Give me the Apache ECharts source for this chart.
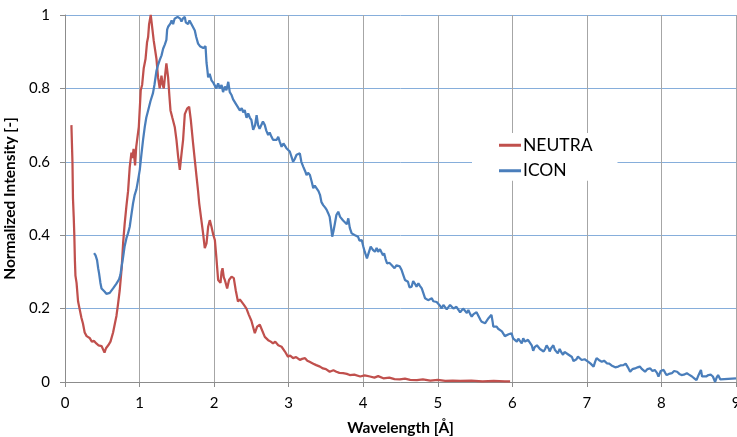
<!DOCTYPE html>
<html><head><meta charset="utf-8">
<script src="https://cdn.jsdelivr.net/npm/echarts@6/dist/echarts.min.js"></script>
<style>html,body{margin:0;padding:0;background:#fff}#c{width:737px;height:437px}</style>
</head><body><div id="c"></div>
<script>
var xTicks = [0,1,2,3,4,5,6,7,8,9];
var yTicks = [0,0.2,0.4,0.6,0.8,1];
var seriesNames = ['NEUTRA','ICON'];

var neutraX = [0.086,0.100,0.107,0.117,0.125,0.133,0.140,0.155,0.175,0.195,0.22,0.24,0.264,0.29,0.33,0.36,0.39,0.42,0.45,0.47,0.49,0.51,0.53,0.55,0.58,0.61,0.645,0.67,0.69,0.71,0.734,0.76,0.78,0.80,0.824,0.846,0.868,0.891,0.905,0.92,0.94,0.955,0.967,0.99,1.016,1.035,1.056,1.08,1.10,1.115,1.128,1.15,1.173,1.19,1.204,1.227,1.248,1.27,1.294,1.31,1.325,1.345,1.36,1.383,1.40,1.415,1.44,1.472,1.495,1.517,1.54,1.562,1.584,1.607,1.638,1.665,1.687,1.718,1.741,1.764,1.785,1.80,1.83,1.852,1.875,1.898,1.92,1.942,1.965,1.99,2.01,2.03,2.054,2.086,2.10,2.113,2.13,2.144,2.175,2.20,2.234,2.264,2.29,2.32,2.345,2.37,2.40,2.434,2.466,2.50,2.546,2.577,2.613,2.636,2.68,2.725,2.76,2.79,2.82,2.86,2.905,2.95,2.99,3.02,3.06,3.10,3.15,3.18,3.22,3.25,3.28,3.33,3.37,3.42,3.46,3.50,3.55,3.60,3.64,3.68,3.73,3.78,3.82,3.88,3.96,4.02,4.09,4.15,4.2,4.27,4.35,4.42,4.49,4.56,4.63,4.72,4.8,4.9,5.0,5.1,5.2,5.3,5.45,5.6,5.75,5.9,5.97];
var neutraY = [0.70,0.60,0.50,0.45,0.40,0.33,0.29,0.27,0.22,0.20,0.175,0.16,0.135,0.125,0.12,0.11,0.112,0.105,0.10,0.103,0.098,0.095,0.080,0.092,0.10,0.11,0.135,0.16,0.18,0.21,0.25,0.31,0.38,0.43,0.48,0.52,0.585,0.625,0.61,0.635,0.59,0.64,0.645,0.695,0.795,0.81,0.855,0.88,0.925,0.94,0.975,1.0,0.96,0.93,0.93,0.88,0.83,0.80,0.835,0.81,0.80,0.84,0.868,0.83,0.78,0.74,0.72,0.695,0.66,0.615,0.578,0.62,0.66,0.73,0.745,0.75,0.715,0.65,0.605,0.56,0.52,0.487,0.44,0.405,0.365,0.378,0.423,0.441,0.423,0.40,0.387,0.34,0.278,0.27,0.30,0.31,0.285,0.278,0.255,0.278,0.287,0.283,0.25,0.219,0.225,0.223,0.21,0.20,0.183,0.167,0.133,0.151,0.156,0.158,0.123,0.114,0.11,0.105,0.11,0.10,0.096,0.083,0.069,0.072,0.065,0.068,0.06,0.063,0.065,0.058,0.055,0.05,0.046,0.042,0.037,0.035,0.028,0.032,0.028,0.025,0.024,0.022,0.019,0.02,0.015,0.018,0.015,0.012,0.016,0.01,0.012,0.008,0.007,0.009,0.006,0.005,0.007,0.004,0.006,0.003,0.004,0.003,0.004,0.002,0.003,0.002,0.002];

var iconX = [0.39,0.41,0.43,0.445,0.457,0.475,0.49,0.51,0.533,0.555,0.577,0.60,0.62,0.645,0.667,0.69,0.71,0.725,0.743,0.76,0.78,0.80,0.824,0.845,0.868,0.89,0.913,0.935,0.958,0.98,1.003,1.025,1.047,1.07,1.09,1.115,1.146,1.18,1.20,1.227,1.25,1.27,1.295,1.316,1.34,1.36,1.37,1.383,1.40,1.415,1.43,1.45,1.47,1.495,1.51,1.53,1.545,1.562,1.58,1.607,1.62,1.635,1.651,1.67,1.697,1.72,1.741,1.76,1.785,1.81,1.83,1.855,1.875,1.885,1.898,1.91,1.92,1.94,1.965,1.99,2.01,2.03,2.054,2.075,2.10,2.12,2.144,2.165,2.19,2.21,2.234,2.255,2.278,2.30,2.32,2.345,2.37,2.39,2.41,2.435,2.457,2.48,2.50,2.524,2.55,2.57,2.59,2.61,2.635,2.655,2.68,2.70,2.725,2.745,2.77,2.79,2.815,2.84,2.86,2.88,2.905,2.93,2.95,2.97,2.99,3.015,3.04,3.06,3.08,3.106,3.125,3.15,3.17,3.195,3.22,3.24,3.26,3.285,3.31,3.33,3.35,3.374,3.40,3.42,3.44,3.463,3.49,3.51,3.53,3.55,3.57,3.584,3.60,3.62,3.64,3.665,3.69,3.71,3.73,3.755,3.78,3.80,3.82,3.845,3.87,3.89,3.91,3.93,3.95,3.98,4.00,4.02,4.05,4.07,4.10,4.13,4.157,4.18,4.2,4.225,4.25,4.265,4.28,4.30,4.32,4.35,4.38,4.40,4.42,4.445,4.47,4.49,4.515,4.54,4.56,4.58,4.60,4.62,4.65,4.67,4.69,4.715,4.74,4.76,4.785,4.81,4.83,4.85,4.87,4.895,4.92,4.94,4.96,4.985,5.006,5.03,5.05,5.075,5.096,5.12,5.14,5.165,5.186,5.21,5.23,5.25,5.275,5.30,5.32,5.34,5.365,5.39,5.41,5.435,5.455,5.48,5.5,5.52,5.545,5.57,5.59,5.61,5.634,5.66,5.68,5.70,5.72,5.735,5.745,5.77,5.79,5.81,5.835,5.86,5.88,5.90,5.925,5.95,5.97,5.99,6.01,6.035,6.06,6.08,6.10,6.126,6.146,6.17,6.19,6.21,6.235,6.26,6.28,6.30,6.33,6.35,6.37,6.395,6.42,6.44,6.46,6.49,6.50,6.52,6.55,6.57,6.59,6.61,6.635,6.66,6.68,6.70,6.725,6.75,6.77,6.80,6.82,6.84,6.86,6.88,6.905,6.93,6.95,6.97,6.99,7.02,7.05,7.07,7.09,7.11,7.13,7.16,7.20,7.23,7.27,7.30,7.33,7.35,7.38,7.42,7.45,7.49,7.52,7.535,7.55,7.58,7.61,7.645,7.68,7.71,7.74,7.78,7.81,7.85,7.88,7.91,7.94,7.96,7.99,8.03,8.05,8.07,8.10,8.14,8.17,8.21,8.24,8.27,8.30,8.34,8.37,8.41,8.44,8.47,8.50,8.53,8.545,8.56,8.60,8.63,8.66,8.69,8.71,8.72,8.74,8.76,8.79,8.80,9.0];
var iconY = [0.351,0.345,0.332,0.31,0.296,0.27,0.255,0.25,0.246,0.24,0.235,0.243,0.246,0.255,0.26,0.268,0.273,0.28,0.292,0.315,0.341,0.37,0.392,0.405,0.423,0.455,0.487,0.51,0.525,0.55,0.578,0.62,0.66,0.695,0.72,0.74,0.765,0.787,0.81,0.848,0.865,0.877,0.89,0.908,0.92,0.932,0.96,0.968,0.965,0.977,0.985,0.975,0.99,0.988,0.995,1.0,0.99,0.982,0.99,0.995,0.98,0.985,0.975,0.985,0.975,0.97,0.958,0.94,0.922,0.915,0.913,0.91,0.905,0.915,0.87,0.85,0.83,0.84,0.822,0.815,0.818,0.80,0.814,0.80,0.809,0.79,0.805,0.795,0.818,0.79,0.782,0.77,0.768,0.755,0.75,0.74,0.746,0.735,0.741,0.72,0.732,0.72,0.714,0.687,0.70,0.727,0.70,0.69,0.695,0.71,0.70,0.685,0.673,0.68,0.668,0.66,0.655,0.66,0.668,0.655,0.641,0.65,0.646,0.637,0.641,0.628,0.632,0.60,0.607,0.619,0.622,0.623,0.60,0.587,0.575,0.564,0.57,0.564,0.545,0.528,0.535,0.532,0.52,0.51,0.49,0.482,0.475,0.469,0.46,0.45,0.42,0.396,0.41,0.432,0.455,0.464,0.45,0.446,0.44,0.437,0.43,0.446,0.42,0.405,0.402,0.40,0.397,0.396,0.385,0.387,0.37,0.355,0.337,0.35,0.369,0.36,0.355,0.365,0.355,0.362,0.36,0.345,0.351,0.335,0.323,0.325,0.319,0.314,0.31,0.318,0.323,0.315,0.305,0.29,0.278,0.28,0.273,0.258,0.26,0.275,0.269,0.26,0.269,0.262,0.255,0.24,0.228,0.232,0.223,0.225,0.228,0.22,0.223,0.218,0.214,0.208,0.20,0.21,0.205,0.198,0.20,0.21,0.205,0.2,0.196,0.205,0.20,0.19,0.192,0.2,0.196,0.188,0.196,0.185,0.178,0.185,0.183,0.19,0.187,0.17,0.164,0.168,0.16,0.165,0.174,0.178,0.183,0.165,0.151,0.155,0.151,0.145,0.142,0.138,0.142,0.125,0.123,0.13,0.128,0.133,0.119,0.115,0.11,0.118,0.114,0.105,0.119,0.11,0.105,0.115,0.119,0.1,0.085,0.095,0.10,0.098,0.09,0.095,0.083,0.09,0.1,0.09,0.083,0.092,0.10,0.088,0.083,0.078,0.09,0.08,0.074,0.082,0.083,0.075,0.078,0.068,0.057,0.055,0.062,0.069,0.065,0.06,0.06,0.062,0.058,0.055,0.05,0.045,0.042,0.055,0.065,0.06,0.055,0.058,0.051,0.05,0.045,0.046,0.04,0.042,0.045,0.046,0.05,0.051,0.04,0.028,0.035,0.037,0.04,0.042,0.035,0.028,0.035,0.037,0.03,0.033,0.025,0.015,0.03,0.033,0.025,0.019,0.022,0.024,0.03,0.028,0.022,0.019,0.02,0.024,0.02,0.015,0.01,0.005,0.02,0.033,0.015,0.01,0.015,0.019,0.02,0.015,0.01,0.0,0.012,0.019,0.007,0.01,0.01];

function pairs(xs, ys){ return xs.map(function(x,i){ return [x, ys[i]]; }); }

var FONT = 'Lato, Carlito, "Open Sans", sans-serif';
// pick font sizes so that text widths match the reference
var mctx = document.createElement('canvas').getContext('2d');
function fitSize(text, weight, target){
  mctx.font = weight + ' 100px ' + FONT;
  var w = mctx.measureText(text).width;
  return Math.round(100 * target / w * 2) / 2;
}
var tickFs = fitSize('0.8', 'normal', 21);
var nameFs = fitSize('Wavelength [Å]', 'bold', 107);
var legFs = fitSize('NEUTRA', 'normal', 70);

var chart = echarts.init(document.getElementById('c'), null, {renderer:'canvas'});
chart.setOption({
  animation: false,
  backgroundColor: '#ffffff',
  grid: {left: 65, right: 1, top: 15, bottom: 55, containLabel: false, outerBoundsMode: 'none'},
  legend: {
    data: seriesNames,
    orient: 'vertical',
    left: 472, top: 133,
    padding: [Math.max(0, 12 - legFs/2), 25, 1, 27],
    itemGap: 25 - legFs,
    itemWidth: 22, itemHeight: 3,
    icon: 'rect',
    backgroundColor: '#ffffff',
    textStyle: {fontFamily: FONT, fontSize: legFs, color: '#000', padding: [0,0,0,-3]}
  },
  xAxis: {
    type: 'value', min: xTicks[0], max: xTicks[xTicks.length-1], interval: 1,
    name: 'Wavelength [Å]', nameLocation: 'middle', nameGap: 38,
    nameTextStyle: {fontFamily: FONT, fontSize: nameFs, fontWeight: 'bold', color: '#000'},
    axisLine: {show: true, onZero: false, lineStyle: {color: '#8c8c8c', width: 1}},
    axisTick: {show: true, length: 5, lineStyle: {color: '#8c8c8c'}},
    axisLabel: {fontFamily: FONT, fontSize: tickFs, color: '#000', margin: 14, hideOverlap: false},
    splitLine: {show: true, lineStyle: {color: '#a6a6a6', width: 1}}
  },
  yAxis: {
    type: 'value', min: yTicks[0], max: yTicks[yTicks.length-1], interval: 0.2,
    name: 'Normalized Intensity [-]', nameLocation: 'middle', nameGap: 40,
    nameTextStyle: {fontFamily: FONT, fontSize: nameFs, fontWeight: 'bold', color: '#000'},
    axisLine: {show: true, lineStyle: {color: '#8c8c8c', width: 1}},
    axisTick: {show: true, length: 5, lineStyle: {color: '#8c8c8c'}},
    axisLabel: {fontFamily: FONT, fontSize: tickFs, color: '#000', margin: 15},
    splitLine: {show: true, lineStyle: {color: '#86aedb', width: 1}}
  },
  series: [
    {name: seriesNames[0], type: 'line', data: pairs(neutraX, neutraY), showSymbol: false, symbol: 'none',
     lineStyle: {color: '#c0504d', width: 2.25}, itemStyle: {color: '#c0504d'}},
    {name: seriesNames[1], type: 'line', data: pairs(iconX, iconY), showSymbol: false, symbol: 'none',
     lineStyle: {color: '#4a7ebb', width: 2.25}, itemStyle: {color: '#4a7ebb'}}
  ]
});
</script></body></html>
